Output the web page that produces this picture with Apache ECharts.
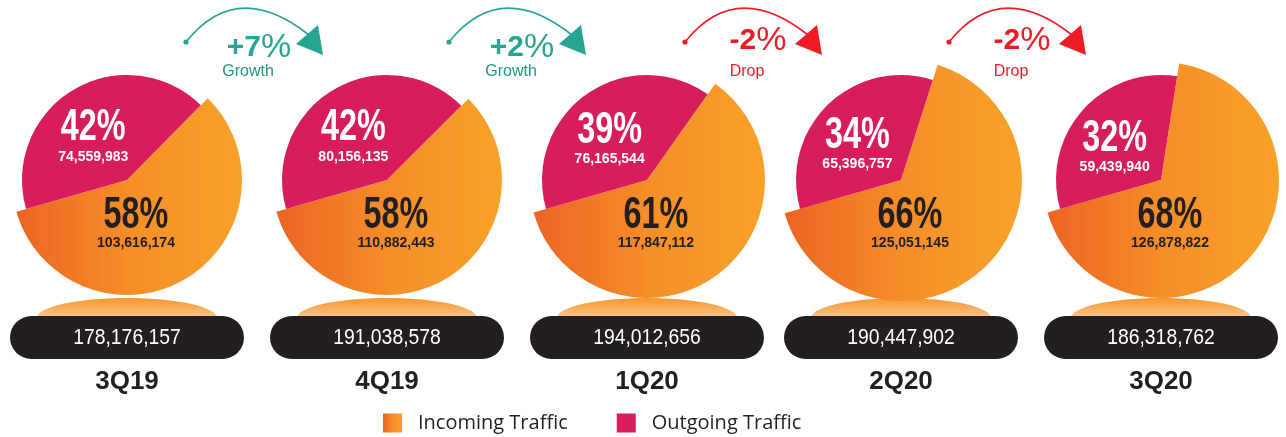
<!DOCTYPE html>
<html><head><meta charset="utf-8">
<style>html,body{margin:0;padding:0;background:#fff}#c{width:1286px;height:437px}</style>
<script src="https://cdn.jsdelivr.net/npm/echarts@6.0.0/dist/echarts.min.js"></script>
</head><body><div id="c"></div>
<script>
// ---- data ----
const quarters = ['3Q19', '4Q19', '1Q20', '2Q20', '3Q20'];
const incoming = [103616174, 110882443, 117847112, 125051145, 126878822];
const outgoing = [74559983, 80156135, 76165544, 65396757, 59439940];
const totals = [178176157, 191038578, 194012656, 190447902, 186318762];
const changeLabels = ['+7%', '+2%', '-2%', '-2%'];
const changeKinds = ['Growth', 'Growth', 'Drop', 'Drop'];

// ---- layout / style ----
const CX = [127, 387, 647, 901, 1161];
const CY = 180;
const R_PINK = 105;
const R_ORANGE = [115, 115, 118, 121, 118];
const ARROW_X = [259, 522, 758, 1022];
const START_ANGLE = 196;
const PINK = '#D81D5C';
const NONE = 'rgba(0,0,0,0)';
const DARK = '#231F20';
const SANS = "'Liberation Sans',Arial,sans-serif";
const NARROW_SCALE = 0.72;

const fmt = v => Number(v).toLocaleString('en-US');
const orangeGrad = () => new echarts.graphic.LinearGradient(0, 0, 1, 0, [
  {offset: 0, color: '#ED6424'}, {offset: 0.5, color: '#F58E28'}, {offset: 1, color: '#F8A22A'}
]);

const chart = echarts.init(document.getElementById('c'), null, {renderer: 'canvas'});
const series = [];
quarters.forEach((q, i) => {
  series.push({
    type: 'pie', name: q + ' incoming', center: [CX[i], CY], radius: [0, R_ORANGE[i]],
    startAngle: START_ANGLE, clockwise: true, silent: true, animation: false,
    avoidLabelOverlap: false, emphasis: {disabled: true}, labelLine: {show: false},
    label: {show: false},
    data: [
      {name: 'Outgoing Traffic', value: outgoing[i], itemStyle: {color: NONE}},
      {name: 'Incoming Traffic', value: incoming[i], itemStyle: {color: orangeGrad()}}
    ]
  });
  series.push({
    type: 'pie', name: q + ' outgoing', center: [CX[i], CY], radius: [0, R_PINK],
    startAngle: START_ANGLE, clockwise: true, silent: true, animation: false,
    avoidLabelOverlap: false, emphasis: {disabled: true}, labelLine: {show: false},
    label: {show: false},
    data: [
      {name: 'Outgoing Traffic', value: outgoing[i], itemStyle: {color: PINK}},
      {name: 'Incoming Traffic', value: incoming[i], itemStyle: {color: NONE}}
    ]
  });
});

const graphics = [];
function txt(x, y, text, color, size, weight, scaleX, z) {
  return {type: 'text', z: z || 10, silent: true, x: x, y: y, scaleX: scaleX || 1,
    style: {text: text, fill: color, font: (weight || 'normal') + ' ' + size + 'px ' + SANS,
      align: 'center', verticalAlign: 'middle'}};
}
quarters.forEach((q, i) => {
  const cx = CX[i];
  const tot = incoming[i] + outgoing[i];
  const outFrac = outgoing[i] / tot;
  const inPct = Math.round(incoming[i] / tot * 100);
  const outPct = Math.round(outFrac * 100);
  // pink slice label, placed along the slice's middle direction
  const th = (START_ANGLE - outFrac * 180) * Math.PI / 180;
  const px = cx + 52.5 * Math.cos(th) - 7;
  const py = CY - 52.5 * Math.sin(th) + 7;
  graphics.push(txt(px, py - 14, outPct + '%', '#fff', 45, 'bold', NARROW_SCALE));
  graphics.push(txt(px, py + 15, fmt(outgoing[i]), '#fff', 14, 'bold'));
  // orange slice label
  graphics.push(txt(cx + 9, CY + 36, inPct + '%', DARK, 45, 'bold', NARROW_SCALE));
  graphics.push(txt(cx + 9, CY + 63, fmt(incoming[i]), DARK, 14, 'bold'));

  graphics.push({type: 'ellipse', z: 1, silent: true, shape: {cx: cx, cy: 318, rx: 90, ry: 20},
    style: {fill: new echarts.graphic.LinearGradient(0, 0, 0, 1, [
      {offset: 0, color: '#F7962C'}, {offset: 1, color: '#FFF3EA'}])}});
  graphics.push({type: 'rect', z: 5, silent: true,
    shape: {x: cx - 117, y: 316, width: 234, height: 43, r: 21.5}, style: {fill: DARK}});
  graphics.push(txt(cx, 338, fmt(totals[i]), '#fff', 22, 'normal', 0.88));
  graphics.push(txt(cx, 382, q, DARK, 26, 'bold'));
});
changeLabels.forEach((lab, i) => {
  const t = ARROW_X[i];
  const up = changeKinds[i] === 'Growth';
  const col = up ? '#26A595' : '#ED1C24';
  const txtCol = up ? '#1E9585' : '#ED1C24';
  graphics.push({type: 'bezierCurve', z: 6, silent: true,
    shape: {x1: t - 73, y1: 42, cpx1: t - 22, cpy1: -22, x2: t + 50, y2: 35},
    style: {stroke: col, lineWidth: 1.6, fill: null}});
  graphics.push({type: 'circle', z: 6, silent: true, shape: {cx: t - 73, cy: 42, r: 2.6}, style: {fill: col}});
  graphics.push({type: 'polygon', z: 6, silent: true,
    shape: {points: [[t + 37, 44], [t + 59, 25], [t + 64, 55]]}, style: {fill: col}});
  const num = lab.slice(0, -1);
  graphics.push({type: 'text', z: 6, silent: true, x: t, y: up ? 48 : 41,
    style: {text: '{b|' + num + '}{r|%}', align: 'center', verticalAlign: 'middle',
      rich: {b: {fontFamily: SANS, fontWeight: 'bold', fontSize: 30, fill: col, color: col},
             r: {fontFamily: SANS, fontSize: 34, fill: col, color: col}}}});
  graphics.push(txt(t - 11, 72, changeKinds[i], txtCol, 16, 'normal'));
});

chart.setOption({
  animation: false,
  legend: {
    left: 383, top: 413, padding: 0, itemWidth: 19, itemHeight: 19, itemGap: 49, icon: 'rect', selectedMode: false,
    textStyle: {fontFamily: 'Open Sans', fontSize: 20, color: DARK, padding: [6, 0, 0, 11]},
    data: [
      {name: 'Incoming Traffic', itemStyle: {color: orangeGrad()}},
      {name: 'Outgoing Traffic', itemStyle: {color: PINK}}
    ]
  },
  series: series,
  graphic: {elements: graphics}
});
</script></body></html>
